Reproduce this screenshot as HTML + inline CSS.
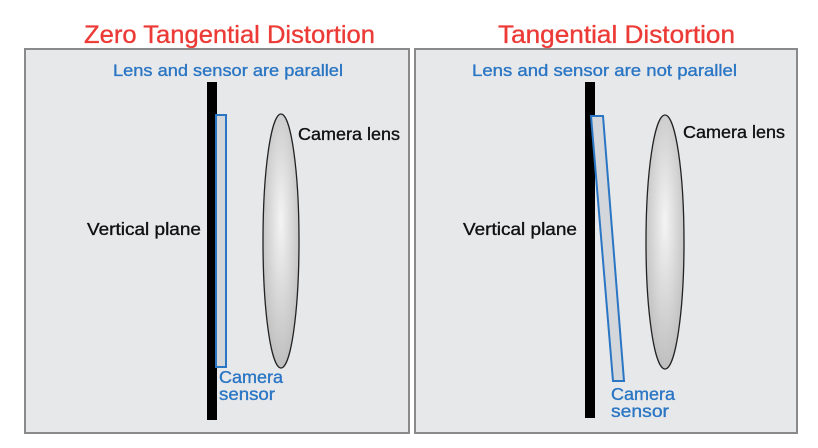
<!DOCTYPE html>
<html><head><meta charset="utf-8"><style>
body{margin:0;background:#fff;width:818px;height:448px;overflow:hidden}
svg{display:block}
text{font-family:"Liberation Sans",sans-serif;stroke-width:0.35}
</style></head><body>
<svg width="818" height="448" viewBox="0 0 818 448">
<defs>
<radialGradient id="g" cx="0.5" cy="0.42" r="0.6">
<stop offset="0" stop-color="#f4f4f4"/><stop offset="1" stop-color="#bdbdbd"/>
</radialGradient>
</defs>
<rect x="25" y="49" width="384" height="384" fill="#e7e8ea" stroke="#8a8a8a" stroke-width="2"/>
<rect x="415" y="49" width="382" height="384" fill="#e7e8ea" stroke="#8a8a8a" stroke-width="2"/>
<text x="84" y="43" font-size="25" fill="#ec3b36" stroke="#ec3b36" textLength="291" lengthAdjust="spacingAndGlyphs">Zero Tangential Distortion</text>
<text x="498" y="43" font-size="25" fill="#ec3b36" stroke="#ec3b36" textLength="237" lengthAdjust="spacingAndGlyphs">Tangential Distortion</text>
<text x="113" y="76" font-size="17" fill="#2a76c4" stroke="#2a76c4" textLength="230" lengthAdjust="spacingAndGlyphs">Lens and sensor are parallel</text>
<text x="472" y="76" font-size="17" fill="#2a76c4" stroke="#2a76c4" textLength="265" lengthAdjust="spacingAndGlyphs">Lens and sensor are not parallel</text>
<!-- left -->
<rect x="207" y="82" width="10" height="338" fill="#000"/>
<rect x="216" y="115" width="10" height="252" fill="#d3d6da" stroke="#2a76c4" stroke-width="2"/>
<ellipse cx="281" cy="241" rx="18" ry="127" fill="url(#g)" stroke="#222" stroke-width="1.3"/>
<text x="298" y="140" font-size="17.5" fill="#111" stroke="#111" textLength="102" lengthAdjust="spacingAndGlyphs">Camera lens</text>
<text x="87" y="235" font-size="17.5" fill="#111" stroke="#111" textLength="114" lengthAdjust="spacingAndGlyphs">Vertical plane</text>
<text x="219" y="383" font-size="17.5" fill="#2a76c4" stroke="#2a76c4" textLength="64" lengthAdjust="spacingAndGlyphs">Camera</text>
<text x="219" y="400" font-size="17.5" fill="#2a76c4" stroke="#2a76c4" textLength="56" lengthAdjust="spacingAndGlyphs">sensor</text>
<!-- right -->
<rect x="585" y="82" width="10" height="336" fill="#000"/>
<polygon points="591,116 603,116 624,381 613,381" fill="#d3d6da" stroke="#2a76c4" stroke-width="2"/>
<ellipse cx="665" cy="242" rx="19" ry="127" fill="url(#g)" stroke="#222" stroke-width="1.3"/>
<text x="683" y="138" font-size="17.5" fill="#111" stroke="#111" textLength="102" lengthAdjust="spacingAndGlyphs">Camera lens</text>
<text x="463" y="235" font-size="17.5" fill="#111" stroke="#111" textLength="114" lengthAdjust="spacingAndGlyphs">Vertical plane</text>
<text x="611" y="400" font-size="17.5" fill="#2a76c4" stroke="#2a76c4" textLength="64" lengthAdjust="spacingAndGlyphs">Camera</text>
<text x="611" y="417" font-size="17.5" fill="#2a76c4" stroke="#2a76c4" textLength="58" lengthAdjust="spacingAndGlyphs">sensor</text>
</svg>
</body></html>
